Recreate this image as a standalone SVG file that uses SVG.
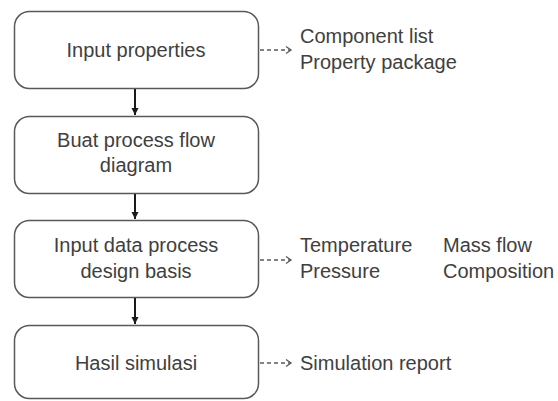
<svg xmlns="http://www.w3.org/2000/svg" width="558" height="401" viewBox="0 0 558 401">
<defs>
<style>
.box{fill:#fff;stroke:#595959;stroke-width:1.5}
.t{font-family:"Liberation Sans",Arial,sans-serif;font-size:20px;fill:#404040}
.c{text-anchor:middle}
.solid{stroke:#1a1a1a;stroke-width:2;fill:none}
.dash{stroke:#595959;stroke-width:1.3;fill:none;stroke-dasharray:4 3}
</style>
<marker id="ah" markerWidth="10" markerHeight="10" refX="8" refY="5" orient="auto" markerUnits="userSpaceOnUse">
<path d="M1,1.5 L8,5 L1,8.5 Z" fill="#1a1a1a"/>
</marker>
<marker id="oh" markerWidth="10" markerHeight="10" refX="7" refY="5" orient="auto" markerUnits="userSpaceOnUse">
<path d="M2,1.5 L7,5 L2,8.5" fill="none" stroke="#595959" stroke-width="1.3"/>
</marker>
</defs>
<rect width="558" height="401" fill="#fff"/>
<g id="node1">
<rect class="box" x="14.5" y="11.5" width="244" height="77" rx="15"/>
<text class="t c" x="136" y="57">Input properties</text>
</g>
<g id="node2">
<rect class="box" x="14.5" y="116.5" width="244" height="77" rx="15"/>
<text class="t c" x="136" y="147">Buat process flow</text>
<text class="t c" x="136" y="172">diagram</text>
</g>
<g id="node3">
<rect class="box" x="14.5" y="220.5" width="244" height="77" rx="15"/>
<text class="t c" x="136" y="252">Input data process</text>
<text class="t c" x="136" y="278">design basis</text>
</g>
<g id="node4">
<rect class="box" x="14.5" y="325.5" width="244" height="73" rx="15"/>
<text class="t c" x="136" y="370">Hasil simulasi</text>
</g>
<g id="out1">
<text class="t" x="300" y="43">Component list</text>
<text class="t" x="300" y="69">Property package</text>
</g>
<g id="out3">
<text class="t" x="300" y="252">Temperature</text>
<text class="t" x="300" y="278">Pressure</text>
<text class="t" x="443" y="252">Mass flow</text>
<text class="t" x="443" y="278">Composition</text>
</g>
<g id="out4">
<text class="t" x="300" y="370">Simulation report</text>
</g>
<g id="connectors">
<line class="solid" x1="135" y1="89" x2="135" y2="115" marker-end="url(#ah)"/>
<line class="solid" x1="135" y1="194" x2="135" y2="219" marker-end="url(#ah)"/>
<line class="solid" x1="135" y1="298" x2="135" y2="324" marker-end="url(#ah)"/>
<line class="dash" x1="260" y1="50" x2="291" y2="50" marker-end="url(#oh)"/>
<line class="dash" x1="260" y1="260" x2="291" y2="260" marker-end="url(#oh)"/>
<line class="dash" x1="260" y1="363" x2="291" y2="363" marker-end="url(#oh)"/>
</g>
</svg>
